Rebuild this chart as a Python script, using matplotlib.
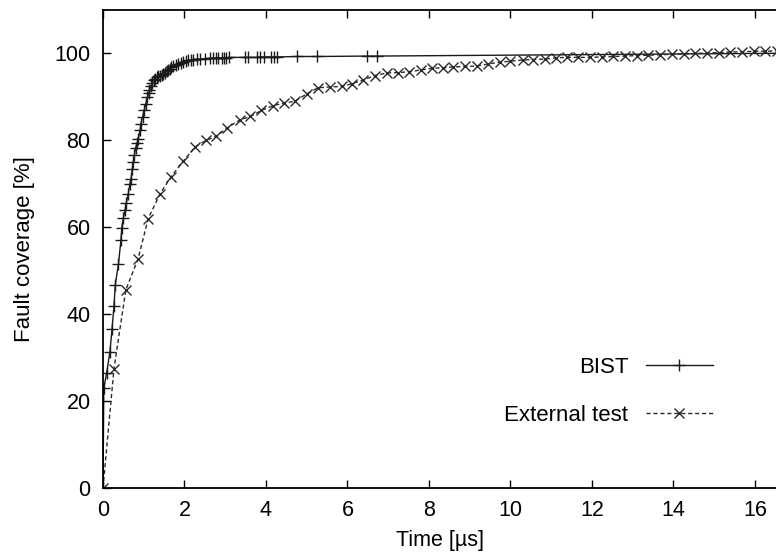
import matplotlib
matplotlib.use("Agg")
import matplotlib.pyplot as plt

plt.rcParams['font.family'] = ['Liberation Sans', 'DejaVu Sans']

# BIST (dense at the start, sparse afterwards)
bist_t = [0.0, 0.02, 0.09, 0.17, 0.22, 0.27, 0.30, 0.38, 0.44, 0.46,
          0.50, 0.54, 0.57, 0.62, 0.66, 0.69, 0.72, 0.74, 0.77, 0.80,
          0.84, 0.87, 0.91, 0.93, 0.97, 1.01, 1.05, 1.09, 1.12, 1.14,
          1.18, 1.21, 1.24, 1.28, 1.32, 1.36, 1.40, 1.44, 1.48, 1.52,
          1.56, 1.60, 1.64, 1.68, 1.73, 1.79, 1.85, 1.91, 1.97, 2.03,
          2.09, 2.15, 2.22, 2.30, 2.38, 2.50, 2.63, 2.71, 2.77, 2.83,
          2.91, 2.98, 3.03, 3.10, 3.49, 3.57, 3.79, 3.85, 3.95, 4.12,
          4.20, 4.28, 4.77, 5.26, 6.47, 6.73, 17.5]
bist_fc = [0.0, 23.0, 26.5, 31.3, 36.5, 41.9, 46.7, 51.6, 57.0, 59.9,
           62.2, 63.9, 65.5, 67.7, 70.0, 71.2, 73.5, 75.0, 76.6, 78.3,
           79.4, 80.4, 82.3, 83.8, 85.4, 86.9, 88.4, 90.0, 90.8, 91.5,
           92.6, 93.2, 93.8, 94.2, 94.6, 94.8, 94.9, 95.1, 95.3, 95.6,
           95.9, 96.2, 96.5, 96.8, 97.1, 97.4, 97.6, 97.8, 98.0, 98.2,
           98.4, 98.5, 98.6, 98.7, 98.7, 98.8, 98.9, 98.9, 99.0, 99.0,
           99.0, 99.0, 99.0, 99.1, 99.1, 99.1, 99.1, 99.2, 99.2, 99.2,
           99.2, 99.2, 99.3, 99.3, 99.4, 99.4, 100.1]

# External test
ext_t = [0.0, 0.27, 0.56, 0.86, 1.11, 1.40, 1.67, 1.97, 2.26, 2.53,
         2.77, 3.05, 3.36, 3.62, 3.89, 4.18, 4.45, 4.71, 5.00, 5.28,
         5.57, 5.86, 6.10, 6.39, 6.67, 6.96, 7.25, 7.52, 7.80, 8.07,
         8.35, 8.60, 8.88, 9.17, 9.46, 9.74, 9.99, 10.31, 10.56, 10.85,
         11.13, 11.38, 11.67, 11.95, 12.24, 12.53, 12.81, 13.10, 13.39, 13.67,
         13.96, 14.25, 14.53, 14.82, 15.11, 15.39, 15.68, 15.97, 16.25, 16.54]
ext_fc = [0.0, 27.5, 45.6, 52.7, 62.0, 67.7, 71.6, 75.2, 78.5, 80.0,
          80.9, 82.9, 84.7, 85.5, 86.9, 88.0, 88.6, 89.0, 90.7, 92.1,
          92.3, 92.4, 93.0, 93.9, 94.9, 95.5, 95.6, 95.8, 96.2, 96.6,
          96.7, 96.9, 97.0, 97.1, 97.6, 98.0, 98.2, 98.5, 98.6, 98.7,
          99.0, 99.1, 99.1, 99.1, 99.2, 99.3, 99.4, 99.5, 99.6, 99.7,
          99.8, 99.9, 100.0, 100.1, 100.2, 100.3, 100.4, 100.5, 100.5, 100.6]

x_ticks = [0, 2, 4, 6, 8, 10, 12, 14, 16]
y_ticks = [0, 20, 40, 60, 80, 100]

fig = plt.figure(figsize=(7.76, 5.59), dpi=100)
ax = fig.add_axes([103 / 776, 71 / 559, 673 / 776, 478 / 559])

ax.plot(bist_t, bist_fc, color='#1a1a1a', lw=1.0, marker='+', ms=8, mew=1.0,
        label='BIST')
ax.plot(ext_t, ext_fc, color='#2a2a2a', lw=1.0, ls=(0, (3, 2)), marker='x',
        ms=6.5, mew=1.0, label='External test')

ax.set_xlim(0, 16.52)
ax.set_ylim(0, 110)
ax.set_xticks(x_ticks)
ax.set_yticks(y_ticks)
ax.tick_params(direction='in', length=6, width=1, labelsize=15.5, top=True,
               right=False, pad=9)
ax.spines['right'].set_visible(False)
for s in ['left', 'bottom', 'top']:
    ax.spines[s].set_linewidth(1.3)

ax.set_xlabel('Time [µs]', fontsize=15.5, labelpad=6)
ax.set_ylabel('Fault coverage [%]', fontsize=16, labelpad=14)

ax.legend(loc='center right', bbox_to_anchor=(0.906, 0.202), frameon=False,
          markerfirst=False, numpoints=1, handlelength=3.0, handletextpad=0.8,
          labelspacing=1.2, fontsize=16, borderpad=0, borderaxespad=0)

fig.savefig('out.png', dpi=100)
